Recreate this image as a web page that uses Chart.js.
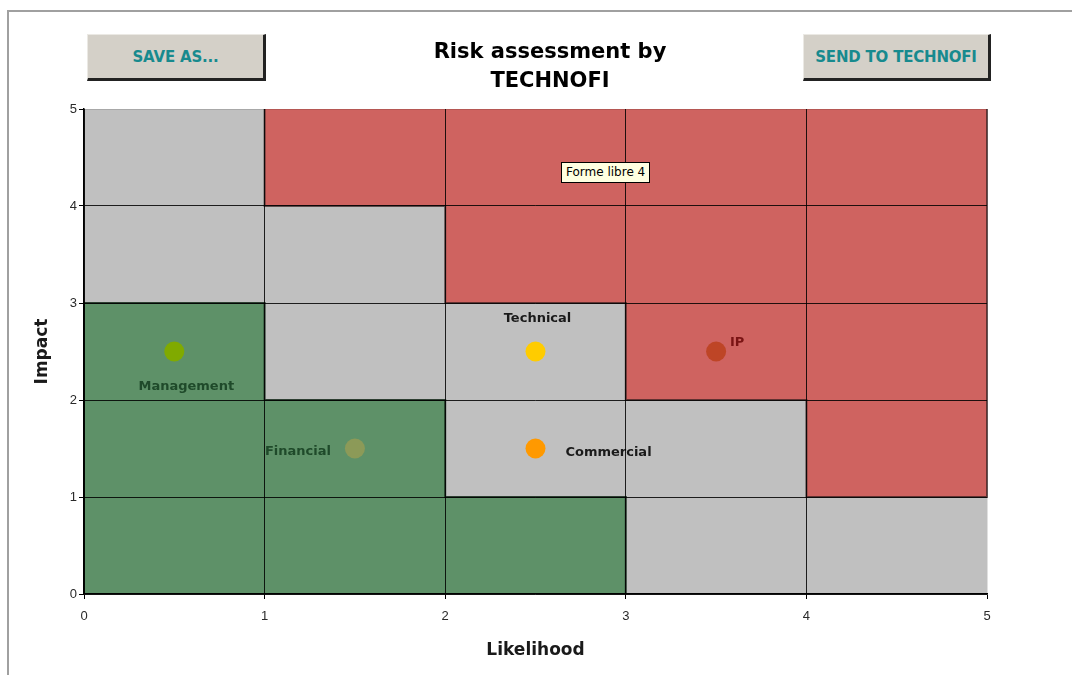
<!DOCTYPE html>
<html>
<head>
<meta charset="utf-8">
<title>Risk assessment by TECHNOFI</title>
<script src="https://cdn.jsdelivr.net/npm/chart.js@4.4.1/dist/chart.umd.min.js"></script>
<style>
  html, body { margin: 0; padding: 0; background: #fff; }
  body { width: 1072px; height: 675px; position: relative; overflow: hidden; font-family: "DejaVu Sans", sans-serif; }
  #frame { position: absolute; left: 7px; top: 10px; width: 1080px; height: 680px;
           border-top: 2px solid #a0a0a0; border-left: 2px solid #a0a0a0; }
  #chart-area { position: absolute; left: 0; top: 0; }
  .btn { position: absolute; top: 34px; height: 47px; background: #d4d0c8;
         border-top: 1px solid #ebe9e4; border-left: 1px solid #ebe9e4;
         border-right: 3px solid #222; border-bottom: 3px solid #222;
         color: #178a8e; font: bold 15px "DejaVu Sans", sans-serif; letter-spacing: -0.2px;
         display: flex; align-items: center; justify-content: center; box-sizing: border-box; }
  #save { left: 87px; width: 179px; }
  #send { left: 803px; width: 188px; }
  #title { position: absolute; left: 350px; width: 400px; top: 37px; text-align: center;
           font: bold 21px "DejaVu Sans", sans-serif; line-height: 29px; color: #000; }
  #tip { position: absolute; left: 561px; top: 162px; height: 21px; padding: 0 4px;
         background: #ffffe1; border: 1px solid #000; font: 12px "DejaVu Sans", sans-serif;
         line-height: 19px; box-sizing: border-box; color: #000; }
</style>
</head>
<body>
<div id="frame"></div>
<canvas id="chart-area" width="1072" height="675"></canvas>
<div class="btn" id="save">SAVE AS...</div>
<div class="btn" id="send">SEND TO TECHNOFI</div>
<div id="title">Risk assessment by<br>TECHNOFI</div>
<div id="tip">Forme libre 4</div>
<script>
// risks: likelihood (x) and impact (y)
var riskNames = ["Management", "Financial", "Technical", "Commercial", "IP"];
var riskLikelihood = [0.5, 1.5, 2.5, 2.5, 3.5];
var riskImpact = [2.5, 1.5, 2.5, 1.5, 2.5];
var riskColors = ["#80aa00", "#8c9a58", "#ffcc00", "#ff9900", "#be4526"];

// zone outlines (step shapes)
var lowZoneX = [0, 0, 1, 1, 2, 2, 3, 3];
var lowZoneY = [0, 3, 3, 2, 2, 1, 1, 0];
var highZoneX = [1, 1, 2, 2, 3, 3, 4, 4, 5, 5];
var highZoneY = [5, 4, 4, 3, 3, 2, 2, 1, 1, 5];

var axisTicks = [0, 1, 2, 3, 4, 5];

function toPoints(xs, ys) {
    return xs.map(function (x, i) { return { x: x, y: ys[i] }; });
}

// label placement around each point, in pixels
var labelStyle = {
    Management: { dx: 12, dy: 35, color: "#1f4a2a" },
    Financial: { dx: -57, dy: 3, color: "#1f4a2a" },
    Technical: { dx: 2, dy: -33, color: "#1a1a1a" },
    Commercial: { dx: 73, dy: 4, color: "#1a1a1a" },
    IP: { dx: 21, dy: -9, color: "#7a1414" }
};

var plotBackground = {
    id: "plotBackground",
    beforeDraw: function (chart) {
        var a = chart.chartArea, ctx = chart.ctx;
        ctx.save();
        ctx.fillStyle = "#c0c0c0";
        ctx.fillRect(a.left, a.top, a.right - a.left, a.bottom - a.top);
        ctx.restore();
    }
};

var riskLabels = {
    id: "riskLabels",
    afterDatasetsDraw: function (chart) {
        var meta = chart.getDatasetMeta(2), ctx = chart.ctx;
        ctx.save();
        ctx.font = "bold 13px 'DejaVu Sans'";
        ctx.textAlign = "center";
        ctx.textBaseline = "middle";
        meta.data.forEach(function (pt, i) {
            var s = labelStyle[riskNames[i]];
            ctx.fillStyle = s.color;
            ctx.fillText(riskNames[i], pt.x + s.dx, pt.y + s.dy);
        });
        ctx.restore();
    }
};

function gridColor(c) {
    return c.tick && c.tick.value === 5 ? "rgba(0,0,0,0.12)" : "rgba(0,0,0,0.85)";
}

var config = {
    type: "scatter",
    data: {
        datasets: [{
            label: "Low",
            data: toPoints(lowZoneX, lowZoneY),
            showLine: true,
            fill: "origin",
            backgroundColor: "#5e9168",
            borderColor: "rgba(20,40,25,0.85)",
            borderWidth: 2,
            pointRadius: 0,
            tension: 0,
            clip: false,
            order: 2
        }, {
            label: "High",
            data: toPoints(highZoneX, highZoneY),
            showLine: true,
            fill: "end",
            backgroundColor: "#cf6360",
            borderColor: "rgba(50,30,30,0.7)",
            borderWidth: 2,
            pointRadius: 0,
            tension: 0,
            clip: false,
            order: 2
        }, {
            label: "Risks",
            data: toPoints(riskLikelihood, riskImpact),
            pointRadius: 10,
            pointHoverRadius: 10,
            pointBackgroundColor: riskColors,
            pointBorderWidth: 0,
            order: 0
        }]
    },
    options: {
        responsive: false,
        animation: false,
        layout: { padding: { top: 109, right: 85, bottom: 0, left: 0 } },
        plugins: {
            legend: { display: false },
            tooltip: { enabled: false },
            title: { display: false }
        },
        scales: {
            x: {
                type: "linear",
                min: 0, max: 5,
                afterFit: function (s) { s.height = 81; },
                afterBuildTicks: function (s) { s.ticks = axisTicks.map(function (v) { return { value: v }; }); },
                grid: { z: 1, color: gridColor, tickColor: "#000", tickLength: 5, lineWidth: 1 },
                border: { color: "#000", width: 1.5, z: 1 },
                ticks: { padding: 10, color: "#2a2a2a", font: { family: "'Liberation Sans'", size: 13 } },
                title: { display: true, text: "Likelihood", color: "#1a1a1a",
                         font: { family: "'DejaVu Sans'", size: 17, weight: "bold" },
                         padding: { top: 0, bottom: 14 } }
            },
            y: {
                type: "linear",
                min: 0, max: 5,
                afterFit: function (s) { s.width = 84; },
                afterBuildTicks: function (s) { s.ticks = axisTicks.map(function (v) { return { value: v }; }); },
                grid: { z: 1, color: gridColor, tickColor: "#000", tickLength: 5, lineWidth: 1 },
                border: { color: "#000", width: 1.5, z: 1 },
                ticks: { padding: 2, color: "#2a2a2a", font: { family: "'Liberation Sans'", size: 13 } },
                title: { display: true, text: "Impact", color: "#1a1a1a",
                         font: { family: "'DejaVu Sans'", size: 17, weight: "bold" },
                         padding: { top: 32, bottom: 0 } }
            }
        }
    },
    plugins: [plotBackground, riskLabels]
};

var ctx = document.getElementById("chart-area").getContext("2d");
var riskChart = new Chart(ctx, config);
</script>
</body>
</html>
